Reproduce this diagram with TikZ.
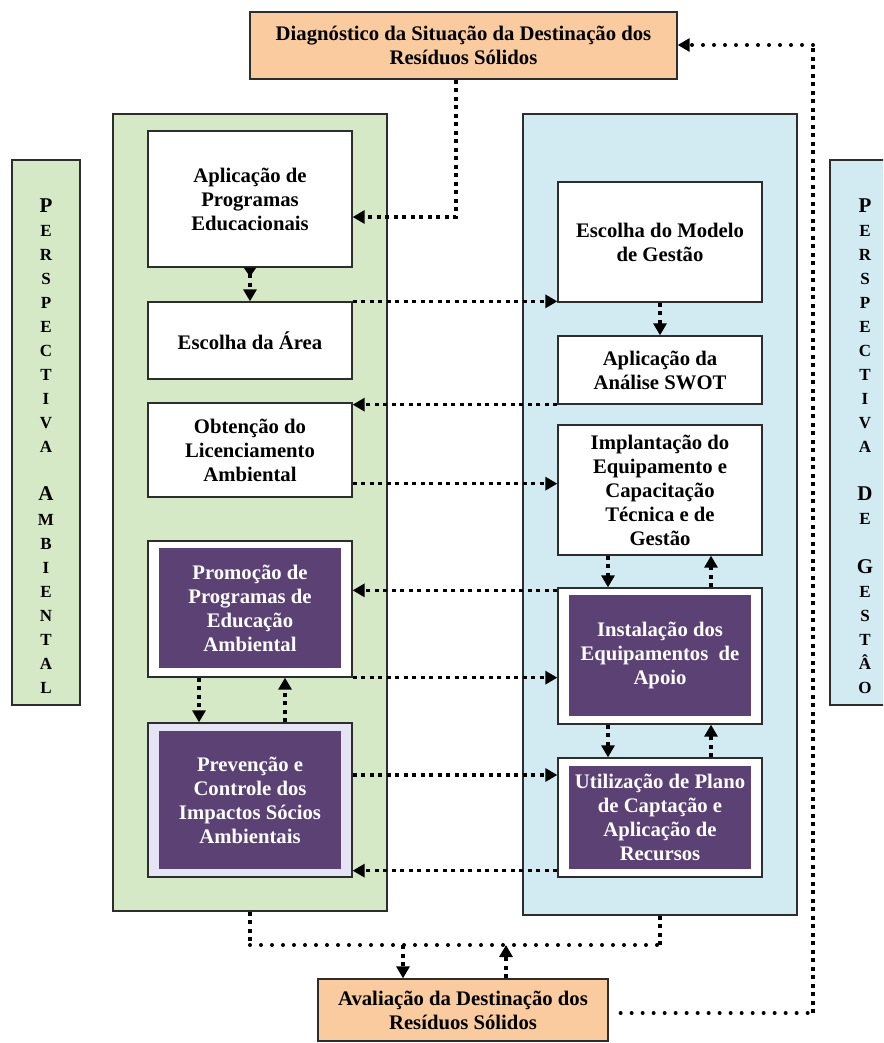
\documentclass[tikz,border=0pt]{standalone}
\usepackage{fontspec}
\setmainfont{Liberation Serif}
\usetikzlibrary{arrows.meta}
\definecolor{peach}{RGB}{250,203,158}
\definecolor{lgreen}{RGB}{214,233,198}
\definecolor{lblue}{RGB}{210,235,242}
\definecolor{purp}{RGB}{92,65,117}
\definecolor{lav}{RGB}{228,228,244}
\definecolor{edge}{RGB}{45,45,45}
\newcommand\BigLetter[1]{{\fontsize{21}{24.05}\selectfont #1}}
\begin{document}
\begin{tikzpicture}[x=1pt,y=-1pt,
  panel/.style={draw=edge, line width=1.3pt, inner sep=0pt},
  box/.style={draw=edge, line width=1.3pt, fill=white, inner sep=0pt, minimum width=204pt, align=center, font=\bfseries\fontsize{20.7}{24}\selectfont},
  inbox/.style={fill=purp, inner sep=0pt, minimum width=182pt, text=white, align=center, font=\bfseries\fontsize{20.7}{24}\selectfont},
  sidetext/.style={inner sep=0pt, align=center, font=\bfseries\fontsize{17}{24.05}\selectfont},
  sq/.style={line width=3.5pt, dash pattern=on 4pt off 4.5pt},
  rd/.style={line width=4pt, line cap=round, dash pattern=on 0pt off 11pt},
  arr/.style={-{Triangle[length=12pt,width=13pt]}}
]
\useasboundingbox (0,0) rectangle (883,1043);
\clip (0,0) rectangle (883,1043);

% panels
\node[panel, fill=lgreen, minimum width=274pt, minimum height=797pt] (gp) at (250,512.5) {};
\node[panel, fill=lblue, minimum width=274pt, minimum height=801pt] (bp) at (660,514.5) {};
\node[panel, fill=lgreen, minimum width=68pt, minimum height=545pt] (lpan) at (46,432.5) {};
\node[panel, fill=lblue, minimum width=70pt, minimum height=545pt] (rpan) at (865,432.5) {};
\node[sidetext] (ltext) at (46,446) {\BigLetter{P}\\E\\R\\S\\P\\E\\C\\T\\I\\V\\A\\[24.05pt]\BigLetter{A}\\M\\B\\I\\E\\N\\T\\A\\L};
\node[sidetext] (rtext) at (865,446) {\BigLetter{P}\\E\\R\\S\\P\\E\\C\\T\\I\\V\\A\\[24.05pt]\BigLetter{D}\\E\\[24.05pt]\BigLetter{G}\\E\\S\\T\\Â\\O};

% top and bottom
\node[box, fill=peach, minimum width=427pt, minimum height=67pt] (diag) at (463.5,45.5) {Diagnóstico da Situação da Destinação dos\\Resíduos Sólidos};
\node[box, fill=peach, minimum width=290pt, minimum height=62pt] (ava) at (463,1010) {Avaliação da Destinação dos\\Resíduos Sólidos};

% left column
\node[box, minimum height=136pt] (apl) at (250,199) {Aplicação de\\Programas\\Educacionais};
\node[box, minimum height=77pt] (esc) at (250,340.5) {Escolha da Área};
\node[box, minimum height=94pt] (obt) at (250,450) {Obtenção do\\Licenciamento\\Ambiental};
\node[box, minimum height=136pt] (pro) at (250,609) {};
\node[inbox, minimum height=120pt] (proi) at (250,608) {Promoção de\\Programas de\\Educação\\Ambiental};
\node[box, fill=lav, minimum height=154pt] (prev) at (250,800) {};
\node[inbox, minimum height=138pt] (previ) at (250,800) {Prevenção e\\Controle dos\\Impactos Sócios\\Ambientais};

% right column
\node[box, minimum height=120pt] (mod) at (660,242) {Escolha do Modelo\\de Gestão};
\node[box, minimum height=68pt] (swot) at (660,370) {Aplicação da\\Análise SWOT};
\node[box, minimum height=130pt] (imp) at (660,490) {Implantação do\\Equipamento e\\Capacitação\\Técnica e de\\Gestão};
\node[box, minimum height=136pt] (ins) at (660,656) {};
\node[inbox, minimum height=121pt] (insi) at (660,655.5) {Instalação dos\\Equipamentos~ de\\Apoio};
\node[box, minimum height=119pt] (uti) at (660,817.5) {};
\node[inbox, minimum height=103pt] (utii) at (660,817.5) {Utilização de Plano\\de Captação e\\Aplicação de\\Recursos};

% connectors
\draw[sq, arr] ([xshift=-7.5pt]diag.south) |- ([yshift=-18pt]apl.east);
\draw[sq, {Triangle[reversed,length=9pt,width=12pt]}-{Triangle[length=12pt,width=13pt]}] (apl.south) -- (esc.north);
\draw[sq, arr] (esc.north east) -- (esc.north east -| mod.west);
\draw[sq, arr] (mod.south) -- (swot.north);
\draw[sq, arr] (swot.south west) -- (swot.south west -| obt.east);
\coordinate (o1) at ([yshift=14pt]obt.south east);
\draw[sq, arr] (o1) -- (o1 -| imp.west);
\coordinate (a1) at ([xshift=-52pt]imp.south);
\draw[sq, arr] (a1) -- (a1 |- ins.north);
\coordinate (a2) at ([xshift=51pt]ins.north);
\draw[sq, arr] (a2) -- (a2 |- imp.south);
\coordinate (a3) at ([yshift=-3pt]ins.north west);
\draw[sq, arr] (a3) -- (a3 -| pro.east);
\draw[sq, arr] (pro.south east) -- (pro.south east -| ins.west);
\coordinate (a4) at ([xshift=-51pt]pro.south);
\draw[sq, arr] (a4) -- (a4 |- prev.north);
\coordinate (a5) at ([xshift=35pt]prev.north);
\draw[sq, arr] (a5) -- (a5 |- pro.south);
\coordinate (a6) at ([xshift=-52pt]ins.south);
\draw[sq, arr] (a6) -- (a6 |- uti.north);
\coordinate (a7) at ([xshift=51pt]uti.north);
\draw[sq, arr] (a7) -- (a7 |- ins.south);
\coordinate (a8) at ([yshift=25pt]prev.east);
\draw[sq, arr] (a8) -- (a8 -| uti.west);
\coordinate (a9) at ([yshift=7pt]uti.south west);
\draw[sq, arr] (a9) -- (a9 -| prev.east);

% bottom loop
\coordinate (l1) at (250,945);
\coordinate (l2) at (660,945);
\draw[sq] (gp.south) -- (l1);
\draw[rd] (l1) -- (l2);
\draw[sq] (l2) -- (bp.south);
\coordinate (l3) at ([xshift=-60pt]ava.north);
\draw[sq, arr] (l3 |- l1) -- (l3);
\coordinate (l4) at ([xshift=43pt]ava.north);
\draw[sq, arr] (l4) -- (l4 |- l1);

% feedback to top
\coordinate (r0) at ([xshift=12pt,yshift=-3pt]ava.east);
\coordinate (r1) at (813,1013);
\coordinate (r2) at (813,45);
\draw[rd] (r0) -- (r1);
\draw[sq] (r1) -- (r2);
\draw[rd, arr] (r2) -- (r2 -| diag.east);
\end{tikzpicture}
\end{document}
